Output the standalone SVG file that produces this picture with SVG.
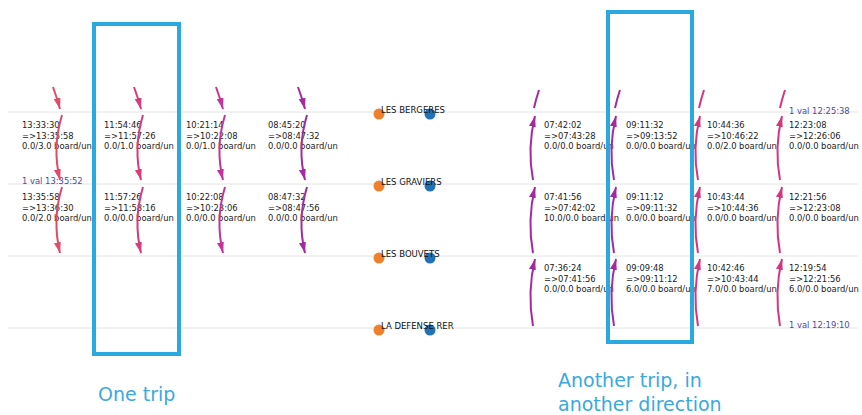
<svg xmlns="http://www.w3.org/2000/svg" width="862" height="415" viewBox="0 0 862 415">
<style>
.grid{stroke:#e4e4e4;stroke-width:1}
.t{font-family:"DejaVu Sans",sans-serif;font-size:8.4px;fill:#222}
.v{font-family:"DejaVu Sans",sans-serif;font-size:8.4px;fill:#4b4aa8}
.st{font-family:"DejaVu Sans",sans-serif;font-size:8.5px;fill:#111}
.box{fill:none;stroke:#2aa8e0;stroke-width:4}
.lab{font-family:"DejaVu Sans",sans-serif;font-size:19px;fill:#3aa9e0}
.a{fill:none;stroke-width:2}
.red{stroke:#e24a6c}.pink{stroke:#d83a7c}.mag{stroke:#c3359c}.pur{stroke:#a22aa2}.rpink{stroke:#d43680}
.o{fill:#f0802a}.b{fill:#2071b5}
</style>
<defs>
<marker id="mred" markerUnits="userSpaceOnUse" markerWidth="12" markerHeight="8" refX="11" refY="3.5" orient="auto"><path d="M0,0 L11,3.5 L0,7z" fill="#e24a6c"/></marker>
<marker id="mpink" markerUnits="userSpaceOnUse" markerWidth="12" markerHeight="8" refX="11" refY="3.5" orient="auto"><path d="M0,0 L11,3.5 L0,7z" fill="#d83a7c"/></marker>
<marker id="mmag" markerUnits="userSpaceOnUse" markerWidth="12" markerHeight="8" refX="11" refY="3.5" orient="auto"><path d="M0,0 L11,3.5 L0,7z" fill="#c3359c"/></marker>
<marker id="mpur" markerUnits="userSpaceOnUse" markerWidth="12" markerHeight="8" refX="11" refY="3.5" orient="auto"><path d="M0,0 L11,3.5 L0,7z" fill="#a22aa2"/></marker>
<marker id="mrpink" markerUnits="userSpaceOnUse" markerWidth="12" markerHeight="8" refX="11" refY="3.5" orient="auto"><path d="M0,0 L11,3.5 L0,7z" fill="#d43680"/></marker>
</defs>
<rect width="862" height="415" fill="#fff"/>
<g id="gridlines">
<line class="grid" x1="8" y1="112" x2="858" y2="112"/>
<line class="grid" x1="8" y1="184" x2="858" y2="184"/>
<line class="grid" x1="8" y1="256" x2="858" y2="256"/>
<line class="grid" x1="8" y1="328" x2="858" y2="328"/>
</g>
<g id="stations">
<g id="st-bergeres"><circle class="o" cx="379" cy="114" r="5.5"/><circle class="b" cx="430" cy="114" r="5.5"/><text class="st" x="381" y="113">LES BERGERES</text></g>
<g id="st-graviers"><circle class="o" cx="379" cy="186" r="5.5"/><circle class="b" cx="430" cy="186" r="5.5"/><text class="st" x="381" y="185">LES GRAVIERS</text></g>
<g id="st-bouvets"><circle class="o" cx="379" cy="258" r="5.5"/><circle class="b" cx="430" cy="258" r="5.5"/><text class="st" x="381" y="257">LES BOUVETS</text></g>
<g id="st-defense"><circle class="o" cx="379" cy="330" r="5.5"/><circle class="b" cx="430" cy="330" r="5.5"/><text class="st" x="381" y="329">LA DEFENSE RER</text></g>
</g>
<g id="labels">
<g id="c1-1"><text class="t" x="22" y="128">13:33:30<tspan x="22" dy="10.6">=&gt;13:35:58</tspan><tspan x="22" dy="10.6">0.0/3.0 board/un</tspan></text></g>
<g id="c1-2"><text class="t" x="22" y="200">13:35:58<tspan x="22" dy="10.6">=&gt;13:36:30</tspan><tspan x="22" dy="10.6">0.0/2.0 board/un</tspan></text></g>
<g id="c1-v"><text class="v" x="22" y="184">1 val 13:35:52</text></g>
<g id="c2-1"><text class="t" x="104" y="128">11:54:46<tspan x="104" dy="10.6">=&gt;11:57:26</tspan><tspan x="104" dy="10.6">0.0/1.0 board/un</tspan></text></g>
<g id="c2-2"><text class="t" x="104" y="200">11:57:26<tspan x="104" dy="10.6">=&gt;11:58:16</tspan><tspan x="104" dy="10.6">0.0/0.0 board/un</tspan></text></g>
<g id="c3-1"><text class="t" x="186" y="128">10:21:14<tspan x="186" dy="10.6">=&gt;10:22:08</tspan><tspan x="186" dy="10.6">0.0/1.0 board/un</tspan></text></g>
<g id="c3-2"><text class="t" x="186" y="200">10:22:08<tspan x="186" dy="10.6">=&gt;10:23:06</tspan><tspan x="186" dy="10.6">0.0/0.0 board/un</tspan></text></g>
<g id="c4-1"><text class="t" x="268" y="128">08:45:20<tspan x="268" dy="10.6">=&gt;08:47:32</tspan><tspan x="268" dy="10.6">0.0/0.0 board/un</tspan></text></g>
<g id="c4-2"><text class="t" x="268" y="200">08:47:32<tspan x="268" dy="10.6">=&gt;08:47:56</tspan><tspan x="268" dy="10.6">0.0/0.0 board/un</tspan></text></g>
<g id="c5-1"><text class="t" x="544" y="128">07:42:02<tspan x="544" dy="10.6">=&gt;07:43:28</tspan><tspan x="544" dy="10.6">0.0/0.0 board/un</tspan></text></g>
<g id="c5-2"><text class="t" x="544" y="200">07:41:56<tspan x="544" dy="10.6">=&gt;07:42:02</tspan><tspan x="544" dy="10.6">10.0/0.0 board/un</tspan></text></g>
<g id="c5-3"><text class="t" x="544" y="271">07:36:24<tspan x="544" dy="10.6">=&gt;07:41:56</tspan><tspan x="544" dy="10.6">0.0/0.0 board/un</tspan></text></g>
<g id="c6-1"><text class="t" x="626" y="128">09:11:32<tspan x="626" dy="10.6">=&gt;09:13:52</tspan><tspan x="626" dy="10.6">0.0/0.0 board/un</tspan></text></g>
<g id="c6-2"><text class="t" x="626" y="200">09:11:12<tspan x="626" dy="10.6">=&gt;09:11:32</tspan><tspan x="626" dy="10.6">0.0/0.0 board/un</tspan></text></g>
<g id="c6-3"><text class="t" x="626" y="271">09:09:48<tspan x="626" dy="10.6">=&gt;09:11:12</tspan><tspan x="626" dy="10.6">6.0/0.0 board/un</tspan></text></g>
<g id="c7-1"><text class="t" x="707" y="128">10:44:36<tspan x="707" dy="10.6">=&gt;10:46:22</tspan><tspan x="707" dy="10.6">0.0/2.0 board/un</tspan></text></g>
<g id="c7-2"><text class="t" x="707" y="200">10:43:44<tspan x="707" dy="10.6">=&gt;10:44:36</tspan><tspan x="707" dy="10.6">0.0/0.0 board/un</tspan></text></g>
<g id="c7-3"><text class="t" x="707" y="271">10:42:46<tspan x="707" dy="10.6">=&gt;10:43:44</tspan><tspan x="707" dy="10.6">7.0/0.0 board/un</tspan></text></g>
<g id="c8-1"><text class="t" x="789" y="128">12:23:08<tspan x="789" dy="10.6">=&gt;12:26:06</tspan><tspan x="789" dy="10.6">0.0/0.0 board/un</tspan></text></g>
<g id="c8-2"><text class="t" x="789" y="200">12:21:56<tspan x="789" dy="10.6">=&gt;12:23:08</tspan><tspan x="789" dy="10.6">0.0/0.0 board/un</tspan></text></g>
<g id="c8-3"><text class="t" x="789" y="271">12:19:54<tspan x="789" dy="10.6">=&gt;12:21:56</tspan><tspan x="789" dy="10.6">6.0/0.0 board/un</tspan></text></g>
<g id="c8-v1"><text class="v" x="789" y="114">1 val 12:25:38</text></g>
<g id="c8-v2"><text class="v" x="789" y="328">1 val 12:19:10</text></g>
</g>
<g id="connectors">
<path class="a red" d="M53,87 Q57,98 60,109" marker-end="url(#mred)"/>
<path class="a red" d="M62,115 Q52,148 60,180" marker-end="url(#mred)"/>
<path class="a red" d="M62,187 Q52,220 60,253" marker-end="url(#mred)"/>
<path class="a pink" d="M134,87 Q138,98 141,109" marker-end="url(#mpink)"/>
<path class="a pink" d="M143,115 Q133,148 141,180" marker-end="url(#mpink)"/>
<path class="a pink" d="M143,187 Q133,220 141,253" marker-end="url(#mpink)"/>
<path class="a mag" d="M216,87 Q220,98 223,109" marker-end="url(#mmag)"/>
<path class="a mag" d="M225,115 Q215,148 223,180" marker-end="url(#mmag)"/>
<path class="a mag" d="M225,187 Q215,220 223,253" marker-end="url(#mmag)"/>
<path class="a pur" d="M298,87 Q302,98 305,109" marker-end="url(#mpur)"/>
<path class="a pur" d="M307,115 Q297,148 305,180" marker-end="url(#mpur)"/>
<path class="a pur" d="M307,187 Q297,220 305,253" marker-end="url(#mpur)"/>
<path class="a pur" d="M539,90 Q536,99 534,108"/>
<path class="a pur" d="M533,180 Q527,148 535,116" marker-end="url(#mpur)"/>
<path class="a pur" d="M533,253 Q527,220 535,187" marker-end="url(#mpur)"/>
<path class="a pur" d="M533,326 Q527,292 535,259" marker-end="url(#mpur)"/>
<path class="a pur" d="M620,90 Q617,99 615,108"/>
<path class="a pur" d="M614,180 Q608,148 616,116" marker-end="url(#mpur)"/>
<path class="a pur" d="M614,253 Q608,220 616,187" marker-end="url(#mpur)"/>
<path class="a pur" d="M614,326 Q608,292 616,259" marker-end="url(#mpur)"/>
<path class="a rpink" d="M704,90 Q701,99 699,108"/>
<path class="a rpink" d="M698,180 Q692,148 700,116" marker-end="url(#mrpink)"/>
<path class="a rpink" d="M698,253 Q692,220 700,187" marker-end="url(#mrpink)"/>
<path class="a rpink" d="M698,326 Q692,292 700,259" marker-end="url(#mrpink)"/>
<path class="a rpink" d="M785,90 Q782,99 780,108"/>
<path class="a rpink" d="M780,180 Q774,148 782,116" marker-end="url(#mrpink)"/>
<path class="a rpink" d="M780,253 Q774,220 782,187" marker-end="url(#mrpink)"/>
<path class="a rpink" d="M780,326 Q774,292 782,259" marker-end="url(#mrpink)"/>
</g>
<g id="trip-one"><rect class="box" x="94" y="24" width="85" height="330"/><text class="lab" x="98" y="401">One trip</text></g>
<g id="trip-another"><rect class="box" x="608" y="12" width="84" height="330"/><text class="lab" x="558" y="387">Another trip, in<tspan x="558" dy="24">another direction</tspan></text></g>
</svg>
